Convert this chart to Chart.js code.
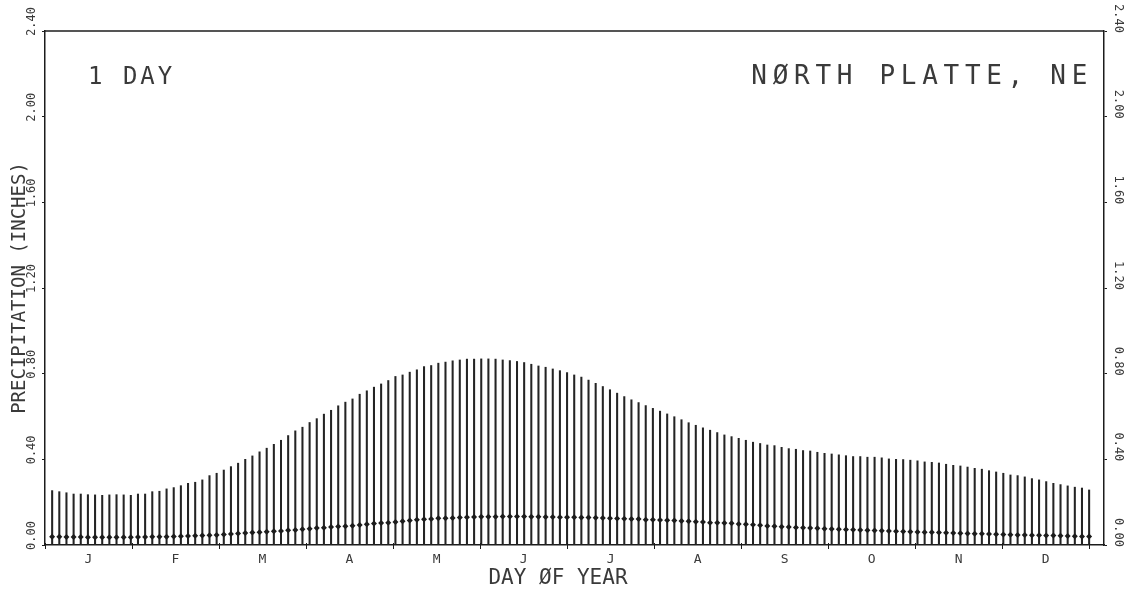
<!DOCTYPE html>
<html>
<head>
<meta charset="utf-8">
<title>North Platte, NE - 1 day precipitation</title>
<script src="https://cdn.jsdelivr.net/npm/chart.js@4.4.1/dist/chart.umd.min.js"></script>
<style>
  html, body { margin: 0; padding: 0; background: #fff; }
  #wrap { width: 1128px; height: 594px; }
</style>
</head>
<body>
<div id="wrap"><canvas id="precipChart" width="1128" height="594"></canvas></div>
<script>
// one line every 2.5 days (day 2.5 ... 365)
var DAY_STEP = 2.5;
var YEAR_DAYS = 365;
var MONTHS = ['J', 'F', 'M', 'A', 'M', 'J', 'J', 'A', 'S', 'O', 'N', 'D'];
var Y_TICKS = [0, 0.4, 0.8, 1.2, 1.6, 2.0, 2.4];
var Y_TICK_LABELS = ['0.00', '0.40', '0.80', '1.20', '1.60', '2.00', '2.40'];

// top of each vertical line, inches
var upperValues = [
  0.254, 0.249, 0.244, 0.238, 0.238, 0.235, 0.234, 0.232, 0.234, 0.235, 0.234, 0.232, 0.238,
  0.238, 0.249, 0.251, 0.262, 0.268, 0.277, 0.288, 0.293, 0.304, 0.324, 0.335, 0.350,
  0.366, 0.382, 0.400, 0.416, 0.435, 0.452, 0.470, 0.489, 0.511, 0.533, 0.550, 0.572, 0.590,
  0.611, 0.629, 0.650, 0.667, 0.682, 0.704, 0.720, 0.737, 0.752, 0.768, 0.787, 0.794,
  0.807, 0.818, 0.833, 0.838, 0.849, 0.854, 0.860, 0.864, 0.868, 0.868, 0.869, 0.869, 0.868,
  0.864, 0.861, 0.857, 0.852, 0.844, 0.836, 0.830, 0.822, 0.814, 0.805, 0.794, 0.784,
  0.770, 0.755, 0.740, 0.725, 0.709, 0.693, 0.678, 0.665, 0.651, 0.638, 0.625, 0.612, 0.599,
  0.585, 0.571, 0.559, 0.547, 0.536, 0.525, 0.514, 0.506, 0.498, 0.489, 0.480, 0.474,
  0.467, 0.464, 0.456, 0.450, 0.447, 0.441, 0.439, 0.433, 0.428, 0.425, 0.421, 0.417, 0.413,
  0.413, 0.410, 0.410, 0.407, 0.402, 0.400, 0.399, 0.396, 0.393, 0.388, 0.386, 0.383,
  0.377, 0.372, 0.369, 0.364, 0.358, 0.354, 0.347, 0.341, 0.335, 0.327, 0.324, 0.318, 0.310,
  0.304, 0.296, 0.288, 0.282, 0.276, 0.270, 0.266, 0.257
];

// dot on each line, inches
var meanValues = [
  0.038, 0.038, 0.037, 0.037, 0.037, 0.036, 0.036, 0.036, 0.036, 0.036, 0.036, 0.036, 0.037,
  0.037, 0.038, 0.038, 0.039, 0.040, 0.041, 0.042, 0.043, 0.044, 0.046, 0.047, 0.049,
  0.051, 0.054, 0.056, 0.058, 0.059, 0.062, 0.064, 0.065, 0.069, 0.070, 0.073, 0.076, 0.079,
  0.081, 0.084, 0.086, 0.087, 0.090, 0.093, 0.097, 0.100, 0.103, 0.104, 0.107, 0.111,
  0.114, 0.118, 0.120, 0.121, 0.125, 0.125, 0.126, 0.128, 0.129, 0.131, 0.132, 0.132, 0.132,
  0.133, 0.133, 0.133, 0.133, 0.132, 0.132, 0.131, 0.131, 0.130, 0.129, 0.129, 0.128,
  0.128, 0.127, 0.126, 0.125, 0.124, 0.123, 0.121, 0.121, 0.118, 0.118, 0.117, 0.115, 0.114,
  0.112, 0.111, 0.109, 0.107, 0.104, 0.104, 0.103, 0.101, 0.098, 0.097, 0.095, 0.092,
  0.089, 0.087, 0.085, 0.084, 0.082, 0.080, 0.079, 0.078, 0.076, 0.075, 0.073, 0.072, 0.071,
  0.070, 0.069, 0.068, 0.067, 0.065, 0.064, 0.063, 0.062, 0.061, 0.060, 0.059, 0.058,
  0.057, 0.056, 0.055, 0.054, 0.053, 0.052, 0.051, 0.050, 0.049, 0.048, 0.047, 0.047, 0.046,
  0.045, 0.044, 0.044, 0.043, 0.042, 0.041, 0.040, 0.040
];

var MONO = '"DejaVu Sans Mono", "Liberation Mono", monospace';
var INK = '#1c1c1c';
var TEXT_INK = '#3a3a3a';

function toPoints(values) {
  return values.map(function(v, i) {
    return { x: (i + 1) * DAY_STEP, y: v };
  });
}

var plotText = {
  id: 'plotText',
  beforeDraw: function(chart) {
    var ctx = chart.ctx;
    ctx.save();
    ctx.fillStyle = '#fff';
    ctx.fillRect(0, 0, chart.width, chart.height);
    ctx.restore();
  },
  afterDraw: function(chart) {
    var ctx = chart.ctx;
    var a = chart.chartArea;
    var xs = chart.scales.x;
    var ys = chart.scales.y;
    ctx.save();

    // top frame
    ctx.strokeStyle = INK;
    ctx.lineWidth = 1.5;
    ctx.beginPath();
    ctx.moveTo(a.left, a.top);
    ctx.lineTo(a.right, a.top);
    ctx.stroke();

    // month boundary ticks
    ctx.lineWidth = 1;
    for (var k = 0; k <= 12; k++) {
      var px = Math.round(xs.getPixelForValue(k * YEAR_DAYS / 12)) + 0.5;
      ctx.beginPath();
      ctx.moveTo(px, a.bottom - 2);
      ctx.lineTo(px, a.bottom + 4);
      ctx.stroke();
    }

    // rotated value labels, both sides
    ctx.fillStyle = TEXT_INK;
    ctx.font = '12px ' + MONO;
    ctx.textBaseline = 'middle';
    Y_TICKS.forEach(function(v, i) {
      var py = ys.getPixelForValue(v);
      ctx.save();
      ctx.translate(a.left - 13, py + 5);
      ctx.rotate(-Math.PI / 2);
      ctx.textAlign = 'left';
      ctx.fillText(Y_TICK_LABELS[i], 0, 0);
      ctx.restore();

      ctx.save();
      ctx.translate(a.right + 14, py + 2);
      ctx.rotate(Math.PI / 2);
      ctx.textAlign = 'right';
      ctx.fillText(Y_TICK_LABELS[i], 0, 0);
      ctx.restore();
    });

    // x axis title
    ctx.font = '21px ' + MONO;
    ctx.textAlign = 'center';
    ctx.textBaseline = 'alphabetic';
    ctx.fillText('DAY ØF YEAR', 558, 584);

    // labels inside the frame
    ctx.font = '24px ' + MONO;
    ctx.letterSpacing = '3px';
    ctx.textAlign = 'left';
    ctx.fillText('1 DAY', 88, 84);
    ctx.font = '26px ' + MONO;
    ctx.letterSpacing = '5.7px';
    ctx.textAlign = 'right';
    ctx.fillText('NØRTH PLATTE, NE', 1093, 84);
    ctx.letterSpacing = '0px';

    ctx.restore();
  }
};

var ctx = document.getElementById('precipChart');
var precipChart = new Chart(ctx, {
  type: 'bar',
  data: {
    datasets: [
      {
        type: 'scatter',
        label: 'Mean',
        data: toPoints(meanValues),
        pointStyle: 'rectRot',
        pointRadius: 3,
        backgroundColor: INK,
        borderColor: INK,
        borderWidth: 0,
        order: 0
      },
      {
        label: 'Precipitation',
        data: toPoints(upperValues),
        backgroundColor: '#242424',
        barThickness: 1.4,
        order: 1
      }
    ]
  },
  options: {
    responsive: false,
    animation: false,
    layout: { padding: { top: 31 } },
    plugins: {
      legend: { display: false },
      tooltip: { enabled: false }
    },
    scales: {
      x: {
        type: 'linear',
        position: 'bottom',
        min: 0,
        max: 370.2,
        offset: false,
        grid: { display: false, drawTicks: false, offset: false },
        border: { display: true, color: INK, width: 1.5 },
        afterBuildTicks: function(scale) {
          scale.ticks = MONTHS.map(function(m, i) {
            return { value: (i + 0.5) * YEAR_DAYS / 12 };
          });
        },
        ticks: {
          autoSkip: false,
          maxRotation: 0,
          padding: 7,
          color: TEXT_INK,
          font: { family: MONO, size: 13 },
          callback: function(value, index) { return MONTHS[index]; }
        },
        afterFit: function(scale) { scale.height = 49; }
      },
      y: {
        position: 'left',
        min: 0,
        max: 2.4,
        ticks: { display: false, stepSize: 0.4 },
        grid: { display: true, drawOnChartArea: false, drawTicks: true, tickLength: 3, color: INK },
        border: { display: true, color: INK, width: 1.5 },
        title: {
          display: true,
          text: 'PRECIPITATION (INCHES)',
          color: TEXT_INK,
          font: { family: MONO, size: 19 },
          padding: { top: 9, bottom: 0 }
        },
        afterFit: function(scale) { scale.width = 45; }
      },
      y2: {
        position: 'right',
        min: 0,
        max: 2.4,
        ticks: { display: false, stepSize: 0.4 },
        grid: { display: true, drawOnChartArea: false, drawTicks: true, tickLength: 3, color: INK },
        border: { display: true, color: INK, width: 1.5 },
        afterFit: function(scale) { scale.width = 24; }
      }
    }
  },
  plugins: [plotText]
});
</script>
</body>
</html>
